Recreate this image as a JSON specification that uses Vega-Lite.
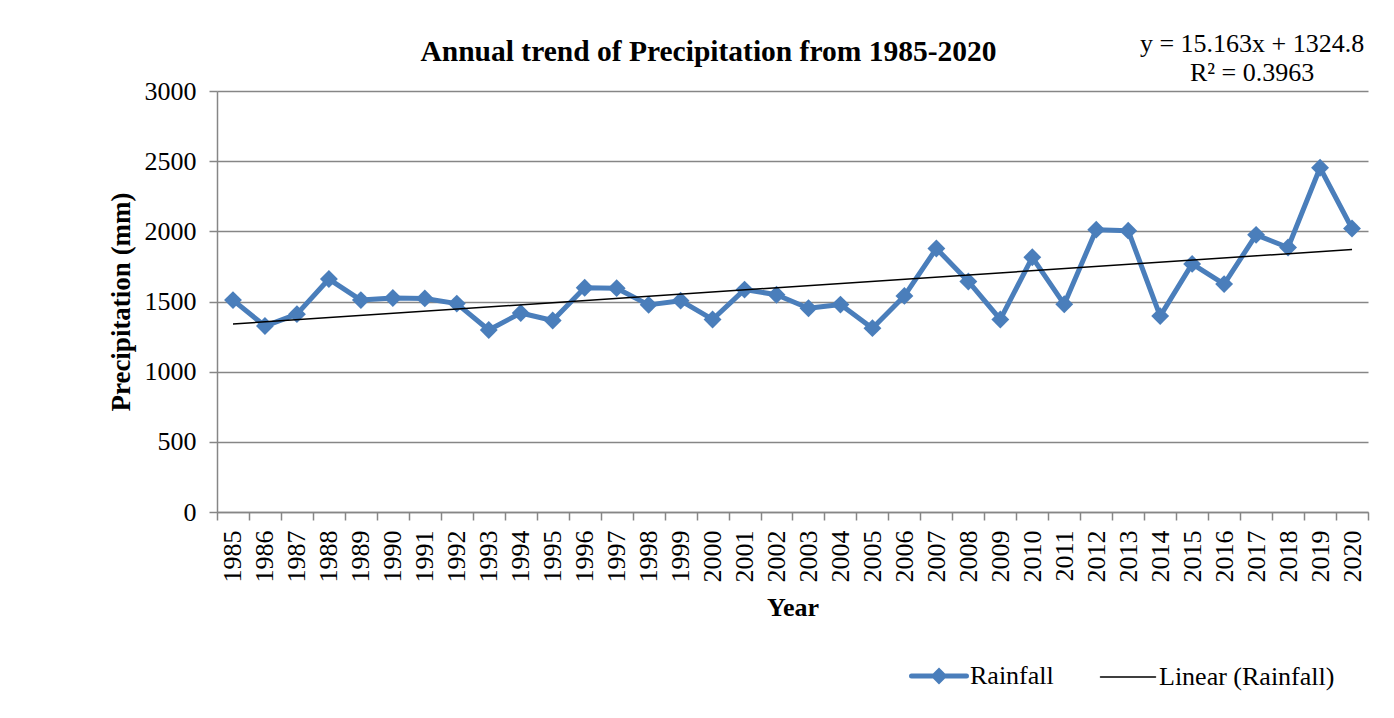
{
  "$schema": "https://vega.github.io/schema/vega-lite/v6.json",
  "width": 1151,
  "height": 421,
  "autosize": {"type": "none"},
  "padding": {"left": 217, "top": 91, "right": 26, "bottom": 206},
  "background": "white",
  "config": {"view": {"stroke": null}, "font": "Liberation Serif"},
  "title": {
    "text": "Annual trend of Precipitation from 1985-2020",
    "font": "Liberation Serif",
    "fontSize": 29.5,
    "fontWeight": "bold",
    "color": "black",
    "anchor": "middle",
    "frame": "group",
    "dx": -84,
    "offset": -36
  },
  "datasets": {
    "rain": [
      {"Year": 1985, "Precipitation": 1510},
      {"Year": 1986, "Precipitation": 1325},
      {"Year": 1987, "Precipitation": 1410},
      {"Year": 1988, "Precipitation": 1660},
      {"Year": 1989, "Precipitation": 1510},
      {"Year": 1990, "Precipitation": 1525},
      {"Year": 1991, "Precipitation": 1522},
      {"Year": 1992, "Precipitation": 1485},
      {"Year": 1993, "Precipitation": 1297},
      {"Year": 1994, "Precipitation": 1418},
      {"Year": 1995, "Precipitation": 1365},
      {"Year": 1996, "Precipitation": 1598},
      {"Year": 1997, "Precipitation": 1595},
      {"Year": 1998, "Precipitation": 1476},
      {"Year": 1999, "Precipitation": 1506},
      {"Year": 2000, "Precipitation": 1372},
      {"Year": 2001, "Precipitation": 1585},
      {"Year": 2002, "Precipitation": 1548},
      {"Year": 2003, "Precipitation": 1452},
      {"Year": 2004, "Precipitation": 1478},
      {"Year": 2005, "Precipitation": 1310},
      {"Year": 2006, "Precipitation": 1540},
      {"Year": 2007, "Precipitation": 1878},
      {"Year": 2008, "Precipitation": 1643},
      {"Year": 2009, "Precipitation": 1372},
      {"Year": 2010, "Precipitation": 1815},
      {"Year": 2011, "Precipitation": 1480},
      {"Year": 2012, "Precipitation": 2012},
      {"Year": 2013, "Precipitation": 2005},
      {"Year": 2014, "Precipitation": 1396},
      {"Year": 2015, "Precipitation": 1768},
      {"Year": 2016, "Precipitation": 1624},
      {"Year": 2017, "Precipitation": 1975},
      {"Year": 2018, "Precipitation": 1885},
      {"Year": 2019, "Precipitation": 2453},
      {"Year": 2020, "Precipitation": 2020}
    ],
    "trend": [
      {"Year": 1985, "Precipitation": 1339.963},
      {"Year": 2020, "Precipitation": 1870.668}
    ]
  },
  "encoding": {
    "x": {
      "field": "Year",
      "type": "ordinal",
      "scale": {"type": "band", "paddingInner": 0, "paddingOuter": 0},
      "axis": {
        "title": "Year",
        "titleFont": "Liberation Serif",
        "titleFontSize": 26,
        "titleFontWeight": "bold",
        "titleColor": "black",
        "titlePadding": 12,
        "labelAngle": -90,
        "labelFont": "Liberation Serif",
        "labelFontSize": 26,
        "labelColor": "black",
        "labelPadding": 10,
        "labelOverlap": false,
        "tickBand": "extent",
        "tickSize": 8,
        "tickColor": "#868686",
        "tickWidth": 1.5,
        "domainColor": "#868686",
        "domainWidth": 1.5,
        "grid": false
      }
    },
    "y": {
      "field": "Precipitation",
      "type": "quantitative",
      "scale": {"domain": [0, 3000], "nice": false},
      "axis": {
        "values": [0, 500, 1000, 1500, 2000, 2500, 3000],
        "format": "d",
        "title": "Precipitation (mm)",
        "titleFont": "Liberation Serif",
        "titleFontSize": 27,
        "titleFontWeight": "bold",
        "titleColor": "black",
        "titlePadding": 9,
        "labelFont": "Liberation Serif",
        "labelFontSize": 26,
        "labelColor": "black",
        "labelPadding": 13,
        "tickSize": 8,
        "tickColor": "#868686",
        "tickWidth": 1.5,
        "domainColor": "#868686",
        "domainWidth": 1.5,
        "grid": true,
        "gridColor": "#868686",
        "gridWidth": 1.5
      }
    }
  },
  "layer": [
    {
      "data": {"name": "rain"},
      "mark": {"type": "line", "strokeWidth": 5, "strokeJoin": "round"},
      "encoding": {
        "color": {
          "datum": "Rainfall",
          "scale": {"domain": ["Rainfall", "Linear (Rainfall)"], "range": ["#4a7ebb", "black"]},
          "legend": {
            "orient": "none",
            "legendX": 709,
            "legendY": 572,
            "direction": "horizontal",
            "title": null,
            "padding": 0,
            "labelFont": "Liberation Serif",
            "labelFontSize": 26,
            "labelColor": "black",
            "labelLimit": 400,
            "symbolSize": 3025,
            "labelOffset": 18,
            "columnPadding": 43,
            "encode": {
              "symbols": {
                "update": {
                  "shape": {"signal": "datum.value === 'Rainfall' ? 'M-1,0L1,0M0,-0.18L0.18,0L0,0.18L-0.18,0Z' : 'M-1,0L1,0'"},
                  "strokeWidth": {"signal": "datum.value === 'Rainfall' ? 5 : 1.5"},
                  "fill": {"signal": "datum.value === 'Rainfall' ? '#4a7ebb' : 'transparent'"},
                  "stroke": {"signal": "datum.value === 'Rainfall' ? '#4a7ebb' : 'black'"},
                  "strokeCap": {"value": "round"},
                  "opacity": {"value": 1}
                }
              }
            }
          }
        }
      }
    },
    {
      "data": {"name": "rain"},
      "mark": {"type": "point", "shape": "diamond", "filled": true, "size": 320, "opacity": 1},
      "encoding": {"color": {"datum": "Rainfall"}}
    },
    {
      "data": {"name": "trend"},
      "mark": {"type": "line", "strokeWidth": 1.5},
      "encoding": {"color": {"datum": "Linear (Rainfall)"}}
    },
    {
      "data": {"name": "rain"},
      "transform": [{"filter": "datum.Year === 2017"}],
      "mark": {
        "type": "text",
        "text": ["y = 15.163x + 1324.8", "R² = 0.3963"],
        "font": "Liberation Serif",
        "fontSize": 26,
        "lineHeight": 29,
        "align": "center",
        "baseline": "alphabetic",
        "fill": "black",
        "dx": -4,
        "dy": -39
      },
      "encoding": {
        "y": {"datum": 3000, "type": "quantitative"}
      }
    }
  ]
}
